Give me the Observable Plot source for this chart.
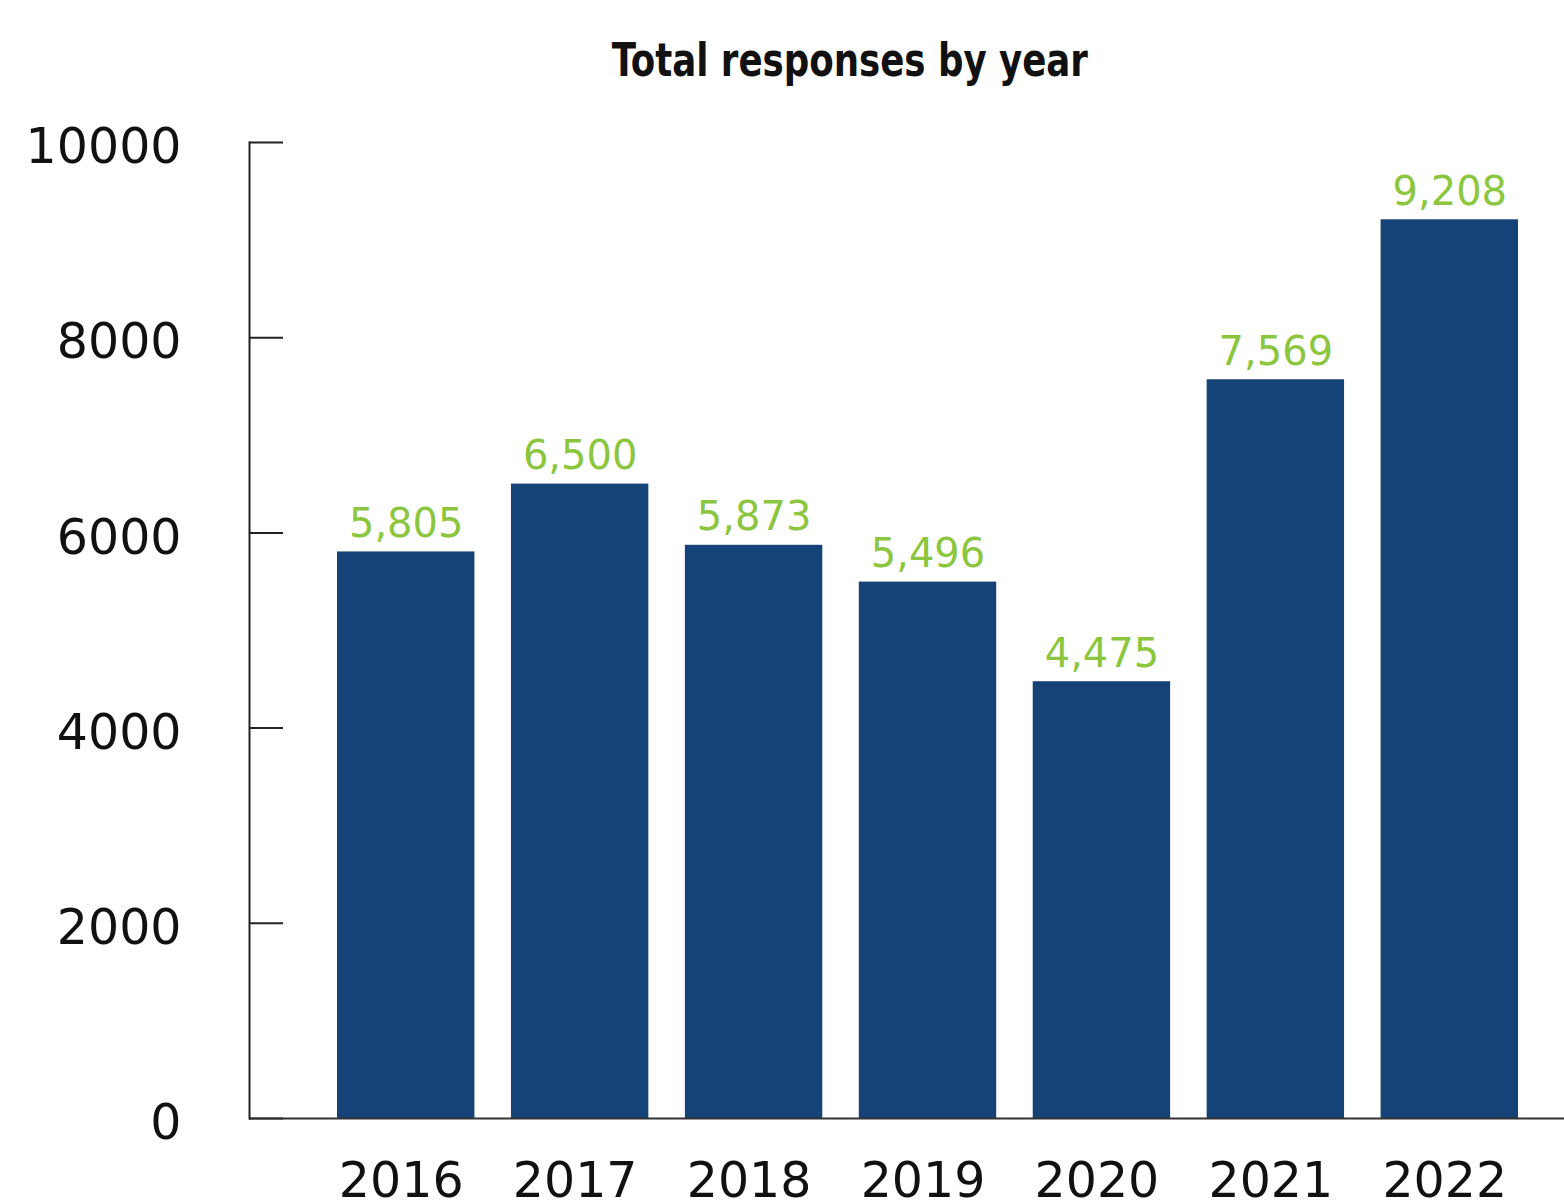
<!DOCTYPE html>
<html>
<head>
<meta charset="utf-8">
<script src="https://cdn.jsdelivr.net/npm/d3@7"></script>
<script src="https://cdn.jsdelivr.net/npm/@observablehq/plot@0.6"></script>
<style>
  html, body { margin: 0; padding: 0; background: #fff; }
  #title {
    height: 110px; width: 1564px; text-align: center; box-sizing: border-box; padding-left: 136px;
    font-family: "Liberation Sans Narrow", "DejaVu Sans Condensed", "Roboto", sans-serif;
    font-weight: bold; font-size: 46px; line-height: 120px; color: #111;
  }
  #title span { display: inline-block; transform: scaleX(0.86); }
</style>
</head>
<body>
<div id="title"><span>Total responses by year</span></div>
<div id="chart"></div>
<script>
const years = ["2016", "2017", "2018", "2019", "2020", "2021", "2022"];
const responses = [5805, 6500, 5873, 5496, 4475, 7569, 9208];
const yTicks = [0, 2000, 4000, 6000, 8000, 10000];

const data = years.map((year, i) => ({year, value: responses[i]}));

const W = 1564, H = 1093, ML = 249, MR = 0, MT = 32, MB = 85;

const chart = Plot.plot({
  width: W, height: H,
  marginLeft: ML, marginRight: MR, marginTop: MT, marginBottom: MB,
  style: {fontFamily: "DejaVu Sans, sans-serif", background: "#fff"},
  x: {domain: years, range: [249, 1606], round: false, paddingInner: 0.21, paddingOuter: 0.506, label: null},
  y: {domain: [0, 10000], ticks: yTicks, label: null},
  marks: [
    Plot.barY(data, {x: "year", y: "value", fill: "#154377"}),
    Plot.text(data, {x: "year", y: "value", text: d => d3.format(",")(d.value),
      lineAnchor: "bottom", dy: -15, fill: "#8cc63f", fontSize: 40}),
    Plot.ruleY(yTicks, {y: d => d, insetRight: W - ML - MR - 34, stroke: "#222", strokeWidth: 2}),
    Plot.ruleY([0], {stroke: "#333", strokeWidth: 2}),
    Plot.frame({anchor: "left", stroke: "#222", strokeWidth: 2}),
    Plot.axisY({ticks: yTicks, tickSize: 0, tickPadding: 68, dy: 5, fontSize: 49, fill: "#111",
      tickFormat: d => String(d), label: null}),
    Plot.axisX({tickSize: 0, tickPadding: 44, dx: -5, fontSize: 49, fill: "#111", label: null})
  ]
});
document.getElementById("chart").appendChild(chart);
</script>
</body>
</html>
